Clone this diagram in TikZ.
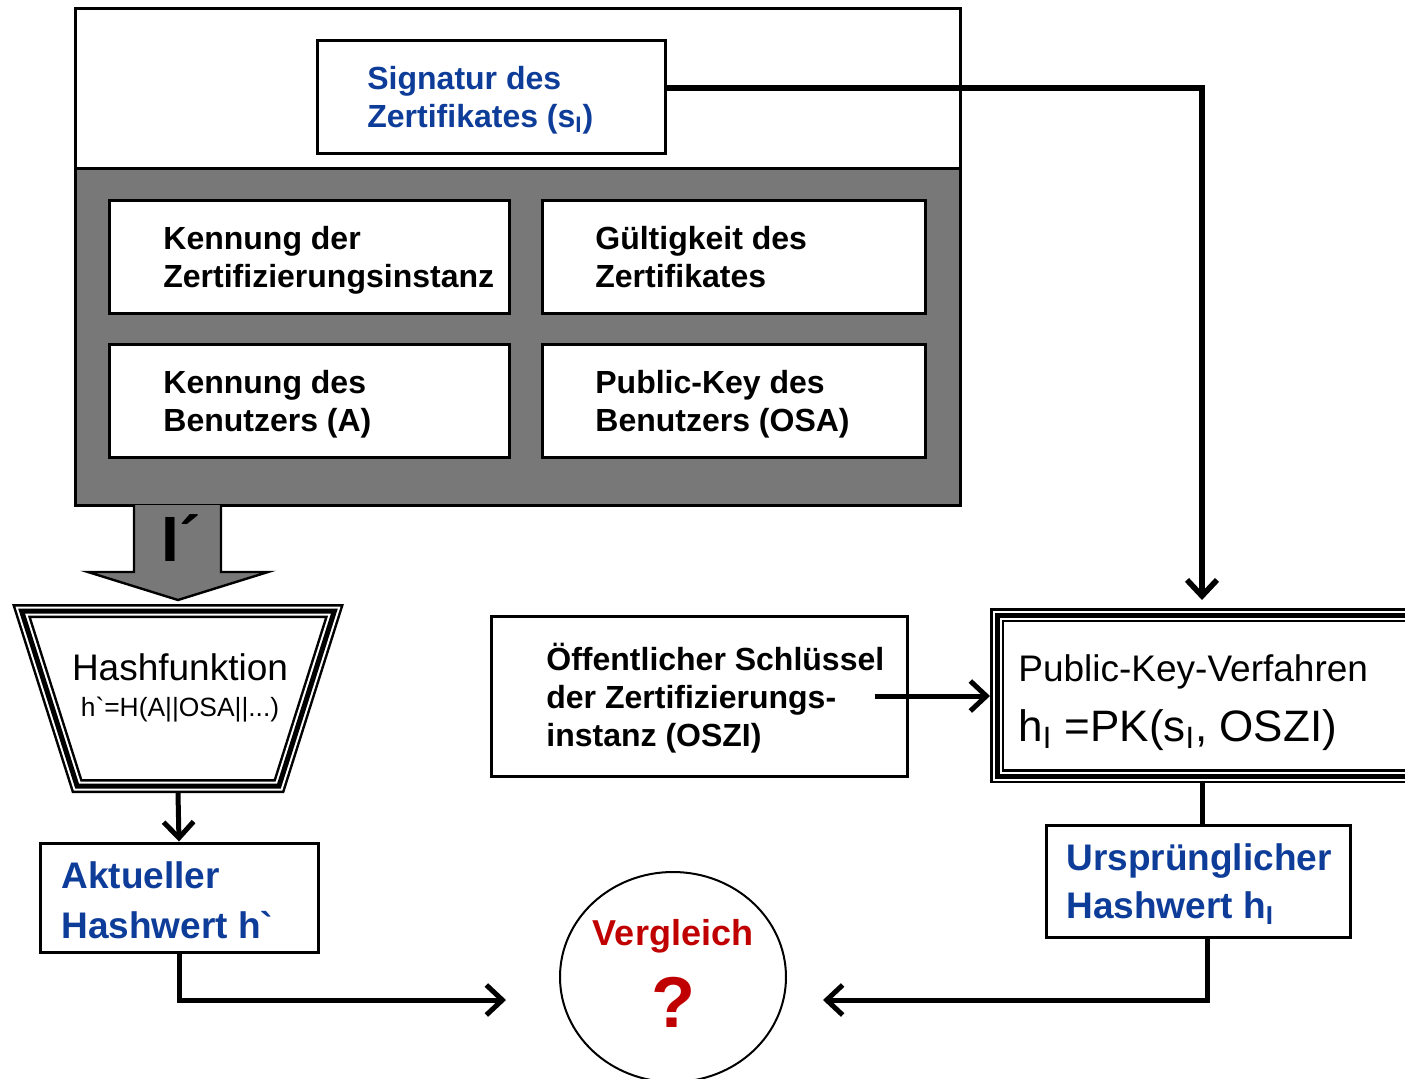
\documentclass[tikz,border=0pt]{standalone}
\usepackage{fontspec}
\setmainfont{Liberation Sans}
\usetikzlibrary{arrows.meta, shapes.geometric, calc}
\definecolor{certblue}{RGB}{14,60,153}
\definecolor{certred}{RGB}{192,0,0}
\definecolor{certgray}{RGB}{120,120,120}
\tikzset{
  certbox/.style={draw=black, line width=1.5pt, fill=white, inner sep=0pt},
  boldtxt/.style={font=\bfseries\fontsize{16}{19}\selectfont, align=left, anchor=west, inner sep=0pt},
  bluetxt/.style={boldtxt, text=certblue},
  bigblue/.style={font=\bfseries\fontsize{18.5}{25}\selectfont, text=certblue, align=left, anchor=west, inner sep=0pt},
  conn/.style={line width=2.5pt, -{Straight Barb[length=8pt,width=15pt]}},
  tripleline/.style={draw=black, line width=7pt,
    postaction={draw=white, line width=4.5pt},
    postaction={draw=black, line width=2.5pt}},
}
\begin{document}
\begin{tikzpicture}[x=0.5pt, y=-0.5pt]
\useasboundingbox (0,0) rectangle (1405,1078);
\clip (0,0) rectangle (1405,1078);

% certificate
\node[certbox, minimum width=442.5pt, minimum height=80pt] (certtop) at (517.5,88) {};
\node[certbox, fill=certgray, minimum width=442.5pt, minimum height=168.5pt] (certbody) at (517.5,336.5) {};

\node[certbox, minimum width=174pt, minimum height=56.5pt] (sig) at (491,96.5) {};
\node[bluetxt] (sigtxt) at (367,100) {Signatur des\\Zertifikates (s\textsubscript{I})};

\node[certbox, minimum width=200pt, minimum height=56.5pt] (kcert) at (309,256.5) {};
\node[boldtxt] (kcerttxt) at (163,260) {Kennung der\\Zertifizierungsinstanz};
\node[certbox, minimum width=191.5pt, minimum height=56.5pt] (valid) at (733.5,256.5) {};
\node[boldtxt] (validtxt) at (595,257) {Gültigkeit des\\Zertifikates};

\node[certbox, minimum width=200pt, minimum height=56.5pt] (kuser) at (309,400.5) {};
\node[boldtxt] (kusertxt) at (163,404) {Kennung des\\Benutzers (A)};
\node[certbox, minimum width=191.5pt, minimum height=56.5pt] (pkuser) at (733.5,400.5) {};
\node[boldtxt] (pkusertxt) at (595,404) {Public-Key des\\Benutzers (OSA)};

% big arrow into the hash function
\draw[line width=1.2pt, fill=certgray] (134,505) -- (134,572) -- (88,572) -- (178,600) -- (268,572) -- (221,572) -- (221,505);
\node[font=\bfseries\fontsize{32}{32}\selectfont, anchor=base west, inner sep=0pt] (iprime) at (161,561) {I´};

% hash function
\draw[tripleline] (21.6,611) -- (334.4,611) -- (279,786) -- (77.1,786) -- cycle;
\coordinate (hashbot) at (178,793);
\node[font=\fontsize{18.5}{18}\selectfont, align=center, inner sep=0pt] (hashtxt) at (180,688) {Hashfunktion\\{\fontsize{13.2}{18}\selectfont h\textasciigrave=H(A||OSA||...)}};

\node[certbox, minimum width=139pt, minimum height=54.5pt] (aktuell) at (179,897.5) {};
\node[bigblue] (aktuelltxt) at (61,900) {Aktueller\\Hashwert h\textasciigrave};
\draw[conn] (hashbot) -- (aktuell.north);

% public key method
\node[certbox, minimum width=208pt, minimum height=80pt] (oeff) at (699,696) {};
\node[boldtxt] (oefftxt) at (546,698) {Öffentlicher Schlüssel\\der Zertifizierungs-\\instanz (OSZI)};

\node[tripleline, minimum width=215.5pt, minimum height=80.5pt, outer sep=3.5pt] (pkproc) at (1212.5,695.5) {};
\node[font=\fontsize{18.5}{30}\selectfont, align=left, anchor=west, inner sep=0pt] (pktxt) at (1018,703) {Public-Key-Verfahren\\{\fontsize{22}{30}\selectfont h\textsubscript{I} =PK(s\textsubscript{I}, OSZI)}};

\draw[conn] ([xshift=-17pt]oeff.east) -- (pkproc.west |- oeff.east);

\coordinate (sigturn) at (1202,88);
\draw[conn, line width=2.8pt, shorten >=4pt] (sig.east |- sigturn) -- (sigturn) -- (sigturn |- pkproc.north);

\node[certbox, minimum width=152pt, minimum height=56pt] (urspr) at (1198,881) {};
\node[bigblue, font=\bfseries\fontsize{18.5}{24}\selectfont] (ursprtxt) at (1066,884) {Ursprünglicher\\Hashwert h\textsubscript{I}};
\draw[line width=2.5pt] (sigturn |- pkproc.south) -- (sigturn |- urspr.north);

% comparison
\node[draw, ellipse, line width=1pt, minimum width=113pt, minimum height=105pt, inner sep=0pt] (verg) at (673,977) {};
\node[font=\bfseries\fontsize{18}{18}\selectfont, text=certred, anchor=base, inner sep=0pt] (vergtxt) at (673,945) {Vergleich};
\node[font=\bfseries\fontsize{36}{36}\selectfont, text=certred, anchor=base, inner sep=0pt] (vergq) at (673,1027) {?};

\draw[conn] (aktuell.south) |- ([xshift=-26.5pt, yshift=-11.5pt]verg.west);
\draw[conn] ([xshift=4.5pt]urspr.south) |- ([xshift=18pt, yshift=-11.5pt]verg.east);
\end{tikzpicture}
\end{document}
